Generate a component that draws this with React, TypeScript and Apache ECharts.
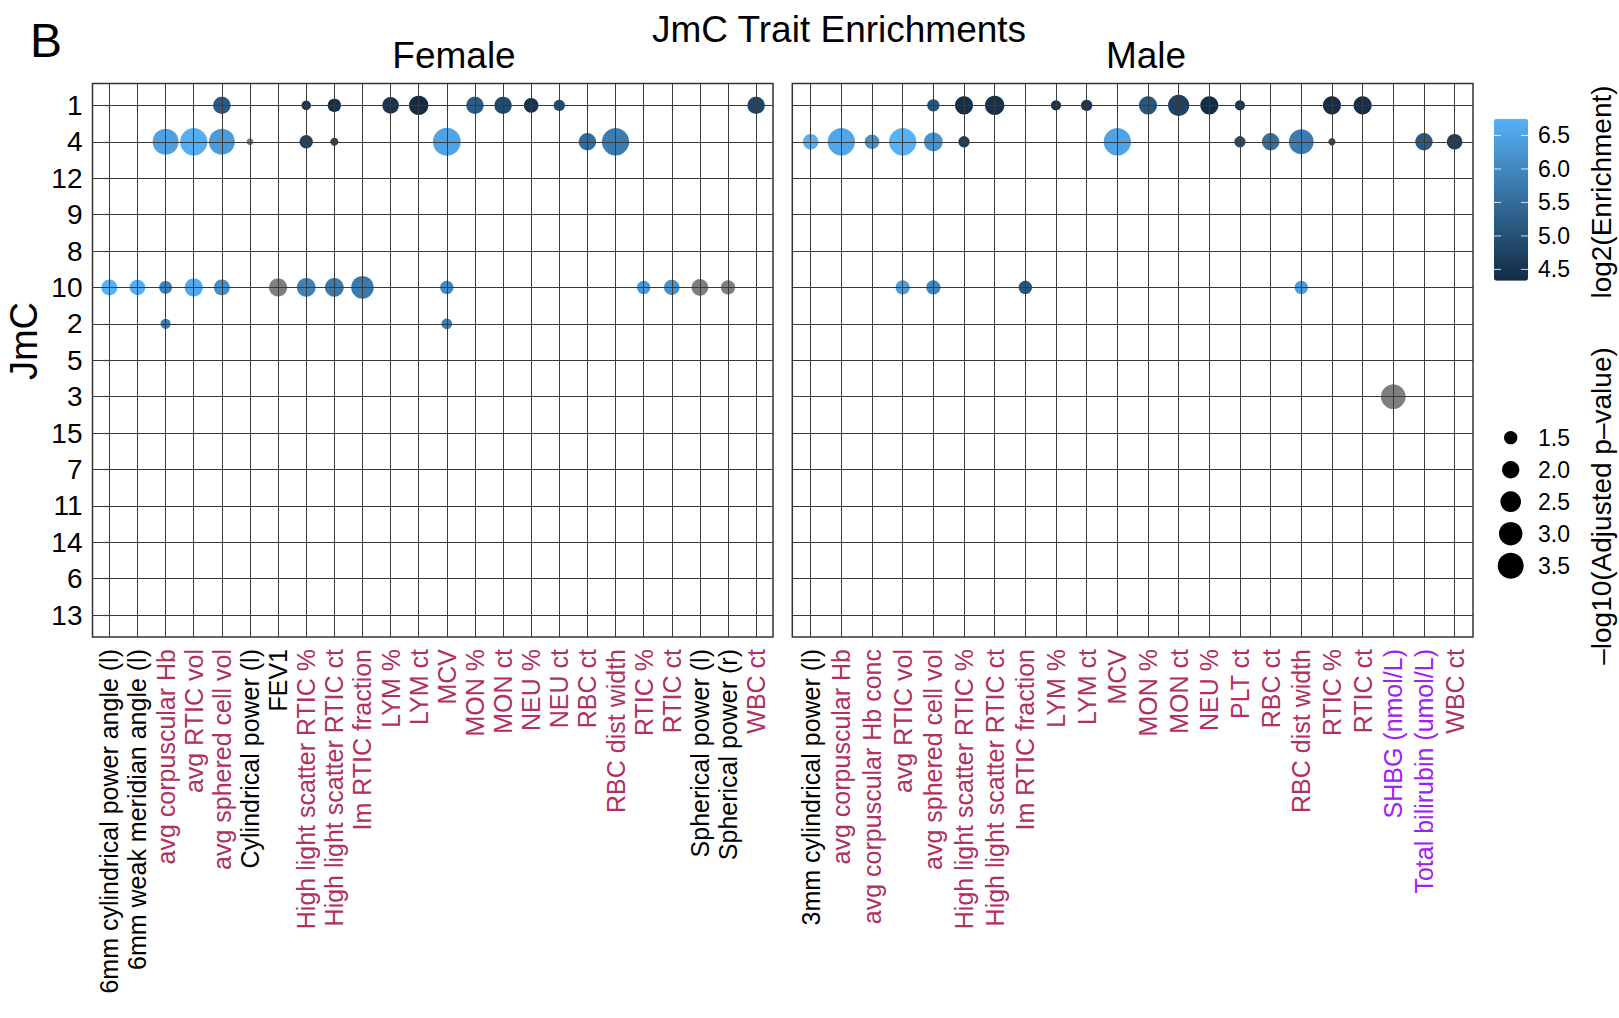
import React, { useEffect, useRef } from 'react';
import * as echarts from 'echarts';

// ---------- data ----------
const jmcRows = ['1', '4', '12', '9', '8', '10', '2', '5', '3', '15', '7', '11', '14', '6', '13'];

const femaleTraits = [
  '6mm cylindrical power angle (l)', '6mm weak meridian angle (l)', 'avg corpuscular Hb', 'avg RTIC vol',
  'avg sphered cell vol', 'Cylindrical power (l)', 'FEV1', 'High light scatter RTIC %',
  'High light scatter RTIC ct', 'Im RTIC fraction', 'LYM %', 'LYM ct', 'MCV', 'MON %', 'MON ct',
  'NEU %', 'NEU ct', 'RBC ct', 'RBC dist width', 'RTIC %', 'RTIC ct', 'Spherical power (l)',
  'Spherical power (r)', 'WBC ct',
];

const maleTraits = [
  '3mm cylindrical power (l)', 'avg corpuscular Hb', 'avg corpuscular Hb conc', 'avg RTIC vol',
  'avg sphered cell vol', 'High light scatter RTIC %', 'High light scatter RTIC ct', 'Im RTIC fraction',
  'LYM %', 'LYM ct', 'MCV', 'MON %', 'MON ct', 'NEU %', 'PLT ct', 'RBC ct', 'RBC dist width',
  'RTIC %', 'RTIC ct', 'SHBG (nmol/L)', 'Total bilirubin (umol/L)', 'WBC ct',
];

const blackTraits = [
  '6mm cylindrical power angle (l)', '6mm weak meridian angle (l)', 'Cylindrical power (l)', 'FEV1',
  'Spherical power (l)', 'Spherical power (r)', '3mm cylindrical power (l)',
];
const purpleTraits = ['SHBG (nmol/L)', 'Total bilirubin (umol/L)'];

// [trait, JmC, -log10(adj p), log2(enrichment) | null (grey)]
type Pt = [string, string, number, number | null];

const femalePoints: Pt[] = [
  ['avg sphered cell vol', '1', 2.0, 5.2],
  ['High light scatter RTIC %', '1', 1.15, 4.5],
  ['High light scatter RTIC ct', '1', 1.5, 4.4],
  ['LYM %', '1', 1.9, 4.5],
  ['LYM ct', '1', 2.3, 4.35],
  ['MON %', '1', 2.0, 5.2],
  ['MON ct', '1', 2.0, 4.9],
  ['NEU %', '1', 1.65, 4.45],
  ['NEU ct', '1', 1.3, 4.9],
  ['WBC ct', '1', 2.0, 4.8],
  ['avg corpuscular Hb', '4', 3.5, 6.45],
  ['avg RTIC vol', '4', 3.8, 6.7],
  ['avg sphered cell vol', '4', 3.5, 6.35],
  ['Cylindrical power (l)', '4', 0.97, null],
  ['High light scatter RTIC %', '4', 1.5, 4.75],
  ['High light scatter RTIC ct', '4', 1.05, 4.8],
  ['MCV', '4', 3.9, 6.5],
  ['RBC ct', '4', 2.0, 5.5],
  ['RBC dist width', '4', 3.8, 5.8],
  ['6mm cylindrical power angle (l)', '10', 1.8, 6.75],
  ['6mm weak meridian angle (l)', '10', 1.75, 6.7],
  ['avg corpuscular Hb', '10', 1.45, 5.9],
  ['avg RTIC vol', '10', 2.1, 6.6],
  ['avg sphered cell vol', '10', 1.8, 6.15],
  ['FEV1', '10', 2.1, null],
  ['High light scatter RTIC %', '10', 2.2, 5.9],
  ['High light scatter RTIC ct', '10', 2.2, 5.75],
  ['Im RTIC fraction', '10', 2.85, 5.75],
  ['MCV', '10', 1.5, 6.05],
  ['RTIC %', '10', 1.5, 6.3],
  ['RTIC ct', '10', 1.75, 6.2],
  ['Spherical power (l)', '10', 1.9, null],
  ['Spherical power (r)', '10', 1.6, null],
  ['avg corpuscular Hb', '2', 1.2, 5.85],
  ['MCV', '2', 1.25, 5.85],
];

const malePoints: Pt[] = [
  ['avg sphered cell vol', '1', 1.4, 5.1],
  ['High light scatter RTIC %', '1', 2.1, 4.4],
  ['High light scatter RTIC ct', '1', 2.3, 4.45],
  ['LYM %', '1', 1.2, 4.45],
  ['LYM ct', '1', 1.3, 4.55],
  ['MON %', '1', 2.1, 5.1],
  ['MON ct', '1', 2.6, 4.75],
  ['NEU %', '1', 2.1, 4.35],
  ['PLT ct', '1', 1.2, 4.5],
  ['RTIC %', '1', 2.1, 4.35],
  ['RTIC ct', '1', 2.1, 4.4],
  ['3mm cylindrical power (l)', '4', 1.75, 6.75],
  ['avg corpuscular Hb', '4', 3.8, 6.55],
  ['avg corpuscular Hb conc', '4', 1.65, 6.2],
  ['avg RTIC vol', '4', 3.8, 6.75],
  ['avg sphered cell vol', '4', 2.2, 6.2],
  ['High light scatter RTIC %', '4', 1.3, 4.65],
  ['MCV', '4', 3.8, 6.5],
  ['PLT ct', '4', 1.3, 4.95],
  ['RBC ct', '4', 2.0, 5.55],
  ['RBC dist width', '4', 3.25, 5.8],
  ['RTIC %', '4', 1.0, 4.9],
  ['Total bilirubin (umol/L)', '4', 2.0, 5.2],
  ['WBC ct', '4', 1.75, 4.7],
  ['avg RTIC vol', '10', 1.6, 6.4],
  ['avg sphered cell vol', '10', 1.6, 6.0],
  ['Im RTIC fraction', '10', 1.5, 5.1],
  ['RBC dist width', '10', 1.5, 6.4],
  ['SHBG (nmol/L)', '3', 3.25, null],
];

const sizeBreaks = [1.5, 2.0, 2.5, 3.0, 3.5];
const colorTicks = [4.5, 5.0, 5.5, 6.0, 6.5];
const enrMin = 4.33;
const enrMax = 6.75;

// ---------- helpers ----------
const FONT = "'Liberation Sans', Arial, Helvetica, sans-serif";
const sizeOf = (v: number) => Math.sqrt(Math.max(249.5 * v - 197, 16));

const toColored = (pts: Pt[], traits: string[]) =>
  pts.filter((p) => p[3] !== null).map((p) => [traits.indexOf(p[0]), jmcRows.indexOf(p[1]), p[2], p[3]]);
const toGrey = (pts: Pt[], traits: string[]) =>
  pts.filter((p) => p[3] === null).map((p) => [traits.indexOf(p[0]), jmcRows.indexOf(p[1]), p[2]]);

const labelStyleKey = (t: string) => (blackTraits.includes(t) ? 'k' : purpleTraits.includes(t) ? 'p' : 'm');
const rich = {
  k: { color: '#000000', fontSize: 25, fontFamily: FONT },
  m: { color: '#B03060', fontSize: 25, fontFamily: FONT },
  p: { color: '#A020F0', fontSize: 25, fontFamily: FONT },
};

const gridLineStyle = { color: '#3a3a3a', width: 1, type: 'solid' as const };

const grids = [
  { left: 92.5, top: 83.5, width: 680.5, height: 553.5 },
  { left: 792.3, top: 83.5, width: 680.7, height: 553.5 },
];

function makeXAxis(traits: string[], gridIndex: number) {
  const vals = traits.map((_, i) => i);
  return {
    type: 'value',
    gridIndex,
    min: -0.6,
    max: traits.length - 1 + 0.6,
    axisLine: { show: false },
    splitLine: { show: false },
    axisTick: { show: true, customValues: vals, length: 5, lineStyle: { color: '#333', width: 1.2 } },
    axisLabel: {
      customValues: vals,
      rotate: 90,
      margin: 12,
      fontFamily: FONT,
      fontSize: 25,
      formatter: (v: number) => {
        const t = traits[Math.round(v)] ?? '';
        return `{${labelStyleKey(t)}|${t}}`;
      },
      rich,
    },
  };
}

function makeYAxis(gridIndex: number, showLabels: boolean) {
  const vals = jmcRows.map((_, i) => i);
  return {
    type: 'value',
    gridIndex,
    inverse: true,
    min: -0.6,
    max: jmcRows.length - 1 + 0.6,
    axisLine: { show: false },
    splitLine: { show: false },
    axisTick: { show: showLabels, customValues: vals, length: 5, lineStyle: { color: '#333', width: 1.2 } },
    axisLabel: {
      show: showLabels,
      customValues: vals,
      margin: 10,
      color: '#000',
      fontFamily: FONT,
      fontSize: 28,
      formatter: (v: number) => jmcRows[Math.round(v)] ?? '',
    },
  };
}

function gridLinesSeries(nx: number, idx: number) {
  const data: any[] = [];
  for (let i = 0; i < nx; i++) data.push({ xAxis: i });
  for (let j = 0; j < jmcRows.length; j++) data.push({ yAxis: j });
  return {
    type: 'scatter',
    xAxisIndex: idx,
    yAxisIndex: idx,
    data: [],
    z: 1,
    silent: true,
    markLine: {
      silent: true,
      symbol: ['none', 'none'],
      label: { show: false },
      emphasis: { disabled: true },
      lineStyle: gridLineStyle,
      data,
    },
  };
}

const txt = (x: number, y: number, text: string, size: number, opts: any = {}) => ({
  type: 'text',
  x,
  y,
  rotation: opts.rotation ?? 0,
  style: {
    text,
    fill: opts.fill ?? '#000',
    font: `${size}px ${FONT}`,
    fontSize: size,
    fontFamily: FONT,
    align: opts.align ?? 'center',
    textAlign: opts.align ?? 'center',
    verticalAlign: 'middle',
    textVerticalAlign: 'middle',
  },
});

// colour bar geometry
const cbLeft = 1494;
const cbTop = 118.7;
const cbW = 34;
const cbH = 162.1;
const cbY = (v: number) => cbTop + cbH - ((v - enrMin) / (enrMax - enrMin)) * cbH;

const sizeLegendX = 1510.7;
const sizeLegendY0 = 437.7;
const sizeLegendStep = 32;

const dotStyle = { opacity: 1 };

export default function App() {
  const ref = useRef<HTMLDivElement>(null);
  useEffect(() => {
    const chart = echarts.init(ref.current!, null, { renderer: 'svg' });

    const graphics: any[] = [
      txt(46, 40, 'B', 48),
      txt(839, 29, 'JmC Trait Enrichments', 37),
      txt(454, 55, 'Female', 37),
      txt(1146, 55, 'Male', 37),
      txt(24, 341, 'JmC', 38, { rotation: Math.PI / 2 }),
      txt(1601, 192, 'log2(Enrichment)', 28, { rotation: Math.PI / 2 }),
      txt(1601, 506, '\u2013log10(Adjusted p\u2013value)', 28, { rotation: Math.PI / 2 }),
    ];
    colorTicks.forEach((v) => {
      const y = cbY(v);
      graphics.push({
        type: 'line',
        shape: { x1: cbLeft + cbW - 7, y1: y, x2: cbLeft + cbW, y2: y },
        style: { stroke: '#ffffff', lineWidth: 1, opacity: 0.8 },
        z: 100,
      });
      graphics.push({
        type: 'line',
        shape: { x1: cbLeft, y1: y, x2: cbLeft + 7, y2: y },
        style: { stroke: '#ffffff', lineWidth: 1, opacity: 0.8 },
        z: 100,
      });
      graphics.push(txt(cbLeft + cbW + 10, y, v.toFixed(1), 23, { align: 'left' }));
    });
    sizeBreaks.forEach((v, i) => {
      const y = sizeLegendY0 + i * sizeLegendStep;
      graphics.push({
        type: 'circle',
        shape: { cx: sizeLegendX, cy: y, r: sizeOf(v) / 2 },
        style: { fill: '#000' },
      });
      graphics.push(txt(1538, y, v.toFixed(1), 23, { align: 'left' }));
    });

    const option: any = {
      animation: false,
      backgroundColor: '#ffffff',
      textStyle: { fontFamily: FONT },
      grid: grids.map((g) => ({
        ...g,
        show: true,
        borderColor: '#333333',
        borderWidth: 1.5,
        backgroundColor: '#ffffff',
        containLabel: false,
      })),
      xAxis: [makeXAxis(femaleTraits, 0), makeXAxis(maleTraits, 1)],
      yAxis: [makeYAxis(0, true), makeYAxis(1, false)],
      visualMap: [
        {
          type: 'continuous',
          show: true,
          seriesIndex: [2, 4],
          dimension: 3,
          min: enrMin,
          max: enrMax,
          calculable: false,
          hoverLink: false,
          realtime: false,
          orient: 'vertical',
          left: cbLeft,
          top: cbTop,
          padding: 0,
          itemWidth: cbW,
          itemHeight: cbH,
          text: null,
          inRange: { color: ['#132B43', '#56B1F7'], colorAlpha: 1 },
        },
      ],
      graphic: { elements: graphics },
      series: [
        gridLinesSeries(femaleTraits.length, 0),
        gridLinesSeries(maleTraits.length, 1),
        {
          name: 'Female',
          type: 'scatter',
          xAxisIndex: 0,
          yAxisIndex: 0,
          z: 3,
          symbol: 'circle',
          symbolSize: (d: number[]) => sizeOf(d[2]),
          itemStyle: dotStyle,
          data: toColored(femalePoints, femaleTraits),
        },
        {
          name: 'Female NA',
          type: 'scatter',
          xAxisIndex: 0,
          yAxisIndex: 0,
          z: 3,
          symbol: 'circle',
          symbolSize: (d: number[]) => sizeOf(d[2]),
          itemStyle: { ...dotStyle, color: '#7F7F7F' },
          data: toGrey(femalePoints, femaleTraits),
        },
        {
          name: 'Male',
          type: 'scatter',
          xAxisIndex: 1,
          yAxisIndex: 1,
          z: 3,
          symbol: 'circle',
          symbolSize: (d: number[]) => sizeOf(d[2]),
          itemStyle: dotStyle,
          data: toColored(malePoints, maleTraits),
        },
        {
          name: 'Male NA',
          type: 'scatter',
          xAxisIndex: 1,
          yAxisIndex: 1,
          z: 3,
          symbol: 'circle',
          symbolSize: (d: number[]) => sizeOf(d[2]),
          itemStyle: { ...dotStyle, color: '#7F7F7F' },
          data: toGrey(malePoints, maleTraits),
        },
      ],
    };
    chart.setOption(option);
    return () => chart.dispose();
  }, []);
  return (
    <div
      ref={ref}
      style={{ position: 'absolute', left: 0, top: 0, width: 1619, height: 1018, background: '#fff' }}
    />
  );
}
